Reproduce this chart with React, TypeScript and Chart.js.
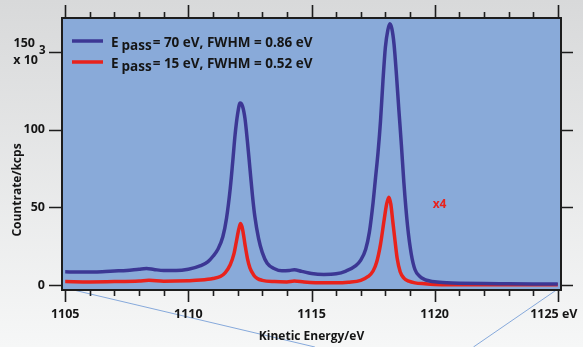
import React, { useEffect, useRef } from "react";
import { Chart, registerables } from "chart.js";
Chart.register(...registerables);

const blueEnergy = [1105.0, 1105.5, 1106.0, 1106.5, 1107.0, 1107.5, 1108.0, 1108.3, 1108.6, 1109.0, 1109.5, 1110.0, 1110.5, 1110.8, 1111.0, 1111.2, 1111.4, 1111.55, 1111.7, 1111.8, 1111.9, 1112.0, 1112.1, 1112.2, 1112.3, 1112.4, 1112.5, 1112.6, 1112.7, 1112.85, 1113.0, 1113.2, 1113.5, 1113.8, 1114.1, 1114.3, 1114.6, 1115.0, 1115.5, 1116.0, 1116.4, 1116.8, 1117.0, 1117.2, 1117.35, 1117.5, 1117.6, 1117.7, 1117.8, 1117.9, 1118.0, 1118.1, 1118.18, 1118.26, 1118.35, 1118.45, 1118.55, 1118.65, 1118.75, 1118.9, 1119.05, 1119.2, 1119.4, 1119.6, 1119.8, 1120.0, 1120.5, 1121.0, 1122.0, 1123.0, 1124.0, 1125.0];
const blueCounts = [8.5, 8.3, 8.4, 8.6, 9.0, 9.4, 10.2, 10.6, 10.0, 9.3, 9.3, 10.2, 12.5, 15, 18.5, 23, 31, 43, 62, 79, 97, 110, 117, 115, 107, 92, 75, 58, 44, 30, 21, 14, 10.5, 9.2, 9.4, 9.8, 8.8, 7.4, 6.8, 7.2, 9.0, 12.5, 16, 23, 34, 53, 69, 85, 105, 131, 153, 164, 168, 165, 155, 135, 112, 90, 66, 38, 20, 10, 5.5, 3.5, 2.6, 2.1, 1.5, 1.2, 0.9, 0.8, 0.7, 0.6];

const redEnergy = [1105.0, 1106.0, 1107.0, 1108.0, 1108.4, 1109.0, 1110.0, 1110.5, 1111.0, 1111.3, 1111.5, 1111.7, 1111.85, 1111.95, 1112.05, 1112.12, 1112.2, 1112.3, 1112.4, 1112.5, 1112.65, 1112.8, 1113.0, 1113.5, 1114.0, 1114.3, 1114.7, 1115.5, 1116.0, 1116.5, 1117.0, 1117.3, 1117.5, 1117.65, 1117.8, 1117.95, 1118.05, 1118.14, 1118.22, 1118.3, 1118.38, 1118.48, 1118.6, 1118.75, 1118.95, 1119.2, 1119.6, 1120.0, 1121.0, 1122.0, 1123.0, 1125.0];
const redCounts = [2.2, 2.0, 2.2, 2.6, 3.0, 2.5, 2.8, 3.2, 4.2, 5.5, 8, 13, 20, 28, 36, 39.5, 36, 26, 17, 11, 6.5, 4.2, 3.0, 2.2, 2.0, 2.6, 2.0, 1.4, 1.4, 1.8, 3.0, 5.5, 9, 15, 26, 42, 52, 56.5, 52, 41, 30, 17, 8.5, 4.5, 2.5, 1.4, 0.8, 0.4, 0.2, 0.1, 0.1, 0.1];

const xMajorTicks = [1105, 1110, 1115, 1120, 1125];
const xTickLabels = ["1105", "1110", "1115", "1120", "1125 eV"];
const xMinorTicks = [1106, 1107, 1108, 1109, 1111, 1112, 1113, 1114, 1116, 1117, 1118, 1119, 1121, 1122, 1123, 1124];
const yTicks = [0, 50, 100, 150];
const yTickLabels = ["0", "50", "100", "150"];
const seriesMain = ["E", "E"];
const seriesSub = ["pass", "pass"];
const seriesRest = ["= 70 eV, FWHM = 0.86 eV", "= 15 eV, FWHM = 0.52 eV"];
const xTitle = "Kinetic Energy/eV";
const yTitle = "Countrate/kcps";
const annotationText = "x4";
const annotationPos = { x: 1120.2, y: 52 };

const BLUE = "#3c3794";
const RED = "#e8221c";
const FONT = "'Open Sans', 'Noto Sans', sans-serif";

const decorPlugin = {
  id: "decor",
  beforeDraw(chart: any) {
    const { ctx, width, height, chartArea: a, scales } = chart;
    ctx.save();
    const g = ctx.createLinearGradient(0, 0, 0, height);
    g.addColorStop(0, "#d8d9da");
    g.addColorStop(1, "#f6f7f7");
    ctx.fillStyle = g;
    ctx.fillRect(0, 0, width, height);
    ctx.fillStyle = "#89aad9";
    ctx.fillRect(a.left, a.top, a.right - a.left, a.bottom - a.top);
    // decorative zoom lines
    ctx.strokeStyle = "#86a9db";
    ctx.lineWidth = 1;
    const x0 = scales.x.getPixelForValue(1105);
    const x1 = scales.x.getPixelForValue(1125);
    ctx.beginPath();
    ctx.moveTo(x0 + 4, a.bottom - 1);
    ctx.lineTo(x0 + 4 + (height - a.bottom) / 0.232, height);
    ctx.moveTo(x1, a.bottom - 1);
    ctx.lineTo(x1 - (height - a.bottom) * 1.48, height);
    ctx.stroke();
    ctx.restore();
  },
  afterDatasetsDraw(chart: any) {
    const { ctx, chartArea: a, scales } = chart;
    const xs = scales.x;
    const ys = scales.y;
    ctx.save();
    ctx.strokeStyle = "#1d1d1d";
    ctx.lineWidth = 2;
    ctx.strokeRect(a.left, a.top, a.right - a.left, a.bottom - a.top);
    // x ticks bottom and top
    ctx.lineWidth = 1.6;
    ctx.beginPath();
    xMajorTicks.forEach((v) => {
      const px = Math.round(xs.getPixelForValue(v)) + 0.5;
      ctx.moveTo(px, a.bottom);
      ctx.lineTo(px, a.bottom + 12);
      ctx.moveTo(px, a.top);
      ctx.lineTo(px, a.top - 13);
    });
    xMinorTicks.forEach((v) => {
      const px = Math.round(xs.getPixelForValue(v)) + 0.5;
      ctx.moveTo(px, a.bottom);
      ctx.lineTo(px, a.bottom + 6);
      ctx.moveTo(px, a.top);
      ctx.lineTo(px, a.top - 6);
    });
    yTicks.forEach((v) => {
      const py = Math.round(ys.getPixelForValue(v)) + 0.5;
      ctx.moveTo(a.left, py);
      ctx.lineTo(a.left - 13, py);
      ctx.moveTo(a.right, py);
      ctx.lineTo(a.right + 12, py);
    });
    ctx.stroke();

    ctx.fillStyle = "#151515";
    ctx.font = `bold 12.5px ${FONT}`;
    ctx.textBaseline = "middle";
    ctx.textAlign = "center";
    xMajorTicks.forEach((v, i) => {
      const px = xs.getPixelForValue(v);
      const shift = i === xMajorTicks.length - 1 ? -4 : 0;
      ctx.fillText(xTickLabels[i], px + shift, a.bottom + 24);
    });
    ctx.textAlign = "right";
    yTicks.forEach((v, i) => {
      const py = ys.getPixelForValue(v);
      if (i === yTicks.length - 1) {
        ctx.fillText(yTickLabels[i], a.left - 27, py - 8);
        ctx.fillText("x 10", a.left - 24, py + 9);
        ctx.font = `bold 11.5px ${FONT}`;
        ctx.textAlign = "left";
        ctx.fillText("3", a.left - 23, py - 1);
        ctx.font = `bold 12.5px ${FONT}`;
        ctx.textAlign = "right";
      } else {
        ctx.fillText(yTickLabels[i], a.left - 17, py);
      }
    });
    ctx.textAlign = "center";
    ctx.font = `bold 12px ${FONT}`;
    ctx.fillText(xTitle, (a.left + a.right) / 2, a.bottom + 47);
    ctx.save();
    ctx.translate(18, 190);
    ctx.rotate(-Math.PI / 2);
    ctx.fillText(yTitle, 0, 0);
    ctx.restore();

    // legend
    const colors = [BLUE, RED];
    const rows = [41, 62];
    rows.forEach((ry, i) => {
      ctx.strokeStyle = colors[i];
      ctx.lineWidth = 3.5;
      ctx.beginPath();
      ctx.moveTo(a.left + 10, ry);
      ctx.lineTo(a.left + 41, ry);
      ctx.stroke();
      ctx.fillStyle = "#151515";
      ctx.textAlign = "left";
      ctx.textBaseline = "alphabetic";
      ctx.font = `bold 13.5px ${FONT}`;
      let x = a.left + 49;
      ctx.fillText(seriesMain[i], x, ry + 6);
      x += ctx.measureText(seriesMain[i]).width + 3;
      ctx.fillText(seriesSub[i], x, ry + 9);
      x += ctx.measureText(seriesSub[i]).width + 1;
      ctx.fillText(seriesRest[i], x, ry + 6);
    });

    ctx.fillStyle = RED;
    ctx.font = `bold 12px ${FONT}`;
    ctx.textAlign = "center";
    ctx.textBaseline = "middle";
    ctx.fillText(annotationText, xs.getPixelForValue(annotationPos.x), ys.getPixelForValue(annotationPos.y));
    ctx.restore();
  },
};

export default function App() {
  const ref = useRef<HTMLCanvasElement>(null);
  useEffect(() => {
    if (!ref.current) return;
    const chart = new Chart(ref.current, {
      type: "line",
      data: {
        datasets: [
          {
            label: "E pass= 70 eV, FWHM = 0.86 eV",
            data: blueEnergy.map((e, i) => ({ x: e, y: blueCounts[i] })),
            borderColor: BLUE,
            borderWidth: 3.5,
            pointRadius: 0,
            cubicInterpolationMode: "monotone",
            fill: false,
          },
          {
            label: "E pass= 15 eV, FWHM = 0.52 eV",
            data: redEnergy.map((e, i) => ({ x: e, y: redCounts[i] })),
            borderColor: RED,
            borderWidth: 3.5,
            pointRadius: 0,
            cubicInterpolationMode: "monotone",
            fill: false,
          },
        ],
      },
      options: {
        animation: false,
        responsive: false,
        devicePixelRatio: 1,
        layout: { padding: { left: 62, top: 18, right: 22, bottom: 57 } },
        plugins: { legend: { display: false }, tooltip: { enabled: false } },
        scales: {
          x: { type: "linear", min: 1104.87, max: 1125.13, display: false },
          y: { type: "linear", min: -3.2, max: 171.7, display: false },
        },
      },
      plugins: [decorPlugin],
    } as any);
    return () => chart.destroy();
  }, []);
  return (
    <div style={{ position: "fixed", left: 0, top: 0, width: 583, height: 347 }}>
      <canvas ref={ref} width={583} height={347} style={{ display: "block", width: 583, height: 347 }} />
    </div>
  );
}
